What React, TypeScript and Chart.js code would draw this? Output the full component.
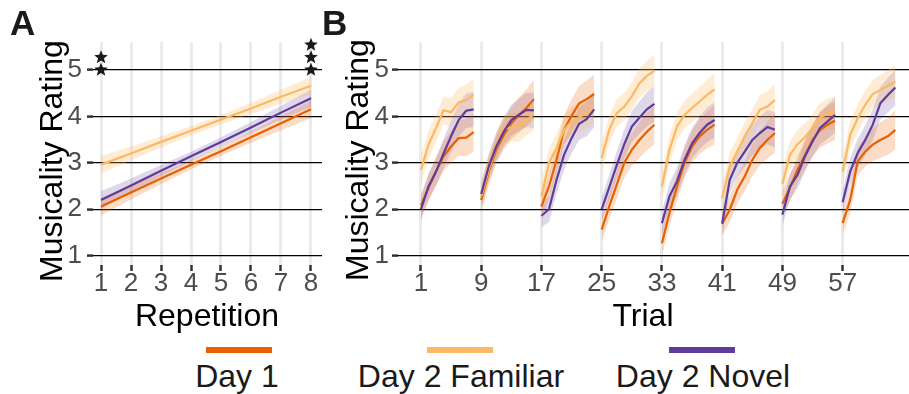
import React, { useEffect, useRef } from 'react';
import { Chart, registerables } from 'chart.js';

Chart.register(...registerables);

const FONT = '"Liberation Sans", Arial, Helvetica, sans-serif';

const COLOR_DAY1 = '#e66101';
const COLOR_FAM = '#fdb863';
const COLOR_NOVEL = '#5e3c99';
const BAND_DAY1 = 'rgba(230,97,1,0.22)';
const BAND_FAM = 'rgba(253,184,99,0.27)';
const BAND_NOVEL = 'rgba(94,60,153,0.2)';

// ---------- Panel A: rating by repetition ----------
const repetitions = [1, 2, 3, 4, 5, 6, 7, 8];
const repDay1 = [2.06, 2.36, 2.66, 2.96, 3.25, 3.55, 3.85, 4.15];
const repFamiliar = [2.96, 3.2, 3.45, 3.69, 3.93, 4.17, 4.42, 4.66];
const repNovel = [2.2, 2.51, 2.83, 3.14, 3.45, 3.76, 4.08, 4.39];
const repCiHalf = [0.19, 0.15, 0.12, 0.1, 0.1, 0.12, 0.15, 0.19];
const sigRepetitions = [1, 8];
const sigLabels = ['**', '***'];
const sigLevel = 5;

const ratingTicks = [1, 2, 3, 4, 5];

// ---------- Panel B: rating by trial ----------
const trialBlockStarts = [1, 9, 17, 25, 33, 41, 49, 57];
const trialsPerBlock = 8;
const trialDay1 = [
  2.08, 2.46, 2.81, 3.14, 3.35, 3.53, 3.54, 3.66,
  2.2, 2.81, 3.28, 3.6, 3.85, 4.03, 4.18, 4.37,
  2.06, 2.49, 3.06, 3.71, 4.01, 4.28, 4.37, 4.48,
  1.56, 2.06, 2.53, 3.0, 3.28, 3.49, 3.67, 3.82,
  1.27, 1.92, 2.49, 3.0, 3.35, 3.57, 3.71, 3.82,
  1.69, 1.99, 2.42, 2.71, 3.06, 3.32, 3.49, 3.64,
  2.12, 2.46, 2.85, 3.17, 3.49, 3.71, 3.82, 3.91,
  1.7, 2.2, 3.03, 3.24, 3.39, 3.49, 3.57, 3.71,
];
const trialFamiliar = [
  2.85, 3.39, 3.75, 4.13, 4.09, 4.3, 4.35, 4.46,
  2.28, 2.85, 3.35, 3.71, 3.77, 3.77, 3.92, 4.05,
  2.28, 3.0, 3.32, 3.71, 3.89, 3.98, 4.07, 4.16,
  3.1, 3.71, 4.07, 4.21, 4.43, 4.71, 4.87, 4.98,
  2.49, 3.28, 3.78, 4.03, 4.18, 4.32, 4.46, 4.58,
  2.24, 2.92, 3.24, 3.57, 3.85, 4.14, 4.21, 4.35,
  2.55, 3.17, 3.4, 3.55, 3.75, 3.98, 4.05, 4.08,
  2.81, 3.6, 3.96, 4.25, 4.48, 4.57, 4.66, 4.75,
];
const trialNovel = [
  2.0, 2.49, 2.81, 3.2, 3.57, 3.92, 4.12, 4.15,
  2.33, 2.92, 3.35, 3.67, 3.92, 4.03, 4.14, 4.13,
  1.86, 2.0, 2.63, 3.17, 3.53, 3.84, 3.94, 4.15,
  2.0, 2.47, 2.95, 3.4, 3.78, 3.97, 4.15, 4.27,
  1.7, 2.28, 2.6, 3.06, 3.42, 3.64, 3.82, 3.92,
  1.69, 2.63, 3.0, 3.24, 3.49, 3.64, 3.77, 3.71,
  1.88, 2.49, 2.74, 3.14, 3.46, 3.75, 3.89, 4.03,
  2.15, 2.81, 3.21, 3.49, 3.82, 4.28, 4.46, 4.62,
];
const ciHalfDay1 = [0.25, 0.28, 0.3, 0.32, 0.35, 0.38, 0.4, 0.42];
const ciHalfFamiliar = [0.3, 0.3, 0.3, 0.3, 0.3, 0.32, 0.33, 0.35];
const ciHalfNovel = [0.25, 0.28, 0.3, 0.32, 0.33, 0.35, 0.37, 0.38];

const legendLabels = ['Day 1', 'Day 2 Familiar', 'Day 2 Novel'];
const legendColors = [COLOR_DAY1, COLOR_FAM, COLOR_NOVEL];

type Pt = { x: number; y: number | null };

function repPoints(vals: number[], half: number[] | null, sign: number): Pt[] {
  return repetitions.map((r, i) => ({ x: r, y: half ? vals[i] + sign * half[i] : vals[i] }));
}

function trialPoints(vals: number[], half: number[] | null, sign: number): Pt[] {
  const pts: Pt[] = [];
  trialBlockStarts.forEach((start, b) => {
    for (let k = 0; k < trialsPerBlock; k++) {
      const v = vals[b * trialsPerBlock + k];
      pts.push({ x: start + k, y: half ? v + sign * half[k] : v });
    }
    pts.push({ x: start + trialsPerBlock - 0.5, y: null });
  });
  return pts;
}

function bandSets(upper: Pt[], lower: Pt[], fill: string) {
  return [
    { data: upper, borderWidth: 0, pointRadius: 0, fill: '+1', backgroundColor: fill, order: 10, spanGaps: false },
    { data: lower, borderWidth: 0, pointRadius: 0, fill: false, backgroundColor: fill, order: 10, spanGaps: false },
  ];
}

function lineSet(data: Pt[], color: string, order: number) {
  return { data, borderColor: color, borderWidth: 2.2, pointRadius: 0, fill: false, order, spanGaps: false };
}

function yScale(width: number, pad: number) {
  return {
    type: 'linear',
    min: 0.8,
    max: 5.6,
    afterBuildTicks: (s: any) => {
      s.ticks = ratingTicks.map((v) => ({ value: v }));
    },
    afterFit: (s: any) => {
      s.width = width;
    },
    grid: { color: '#000000', lineWidth: 1.2, tickColor: '#333333', tickLength: 6, tickWidth: 2.5 },
    border: { display: false },
    ticks: { font: { family: FONT, size: 26, lineHeight: 1 }, color: '#4d4d4d', padding: pad },
  };
}

function xScale(min: number, max: number, tickVals: number[]) {
  return {
    type: 'linear',
    min,
    max,
    afterBuildTicks: (s: any) => {
      s.ticks = tickVals.map((v) => ({ value: v }));
    },
    afterFit: (s: any) => {
      s.height = 35;
    },
    grid: { color: '#ebebeb', lineWidth: 3, tickColor: '#333333', tickLength: 6, tickWidth: 2.5 },
    border: { display: false },
    ticks: {
      font: { family: FONT, size: 26, lineHeight: 1 },
      color: '#4d4d4d',
      padding: 0,
      autoSkip: false,
      maxRotation: 0,
      minRotation: 0,
    },
  };
}

function drawStar(ctx: CanvasRenderingContext2D, cx: number, cy: number, ro: number, ri: number) {
  ctx.beginPath();
  for (let i = 0; i < 10; i++) {
    const r = i % 2 === 0 ? ro : ri;
    const a = -Math.PI / 2 + (i * Math.PI) / 5;
    const x = cx + r * Math.cos(a);
    const y = cy + r * Math.sin(a);
    if (i === 0) ctx.moveTo(x, y);
    else ctx.lineTo(x, y);
  }
  ctx.closePath();
  ctx.fill();
}

const starsPlugin = {
  id: 'sigStars',
  afterDatasetsDraw(chart: any) {
    const { ctx, scales } = chart;
    ctx.save();
    ctx.fillStyle = '#1a1a1a';
    sigRepetitions.forEach((rep, i) => {
      const px = scales.x.getPixelForValue(rep);
      const py = scales.y.getPixelForValue(sigLevel);
      for (let k = 0; k < sigLabels[i].length; k++) {
        drawStar(ctx, px, py - k * 12.5, 7.2, 3.1);
      }
    });
    ctx.restore();
  },
};

function baseOptions(scales: any, padding: any) {
  return {
    responsive: false,
    animation: false,
    devicePixelRatio: 1,
    events: [],
    layout: { padding },
    plugins: { legend: { display: false }, tooltip: { enabled: false }, title: { display: false } },
    scales,
  };
}

export default function App() {
  const refA = useRef<HTMLCanvasElement>(null);
  const refB = useRef<HTMLCanvasElement>(null);

  useEffect(() => {
    const chartA = new Chart(refA.current as HTMLCanvasElement, {
      type: 'line',
      data: {
        datasets: [
          ...bandSets(repPoints(repDay1, repCiHalf, 1), repPoints(repDay1, repCiHalf, -1), BAND_DAY1),
          ...bandSets(repPoints(repFamiliar, repCiHalf, 1), repPoints(repFamiliar, repCiHalf, -1), BAND_FAM),
          ...bandSets(repPoints(repNovel, repCiHalf, 1), repPoints(repNovel, repCiHalf, -1), BAND_NOVEL),
          lineSet(repPoints(repDay1, null, 0), COLOR_DAY1, 3),
          lineSet(repPoints(repFamiliar, null, 0), COLOR_FAM, 2),
          lineSet(repPoints(repNovel, null, 0), COLOR_NOVEL, 1),
        ] as any,
      },
      options: baseOptions(
        { x: xScale(0.733, 8.367, repetitions), y: yScale(93, 5) },
        { left: 0, top: 42, right: 8, bottom: 0 }
      ) as any,
      plugins: [starsPlugin],
    });

    const chartB = new Chart(refB.current as HTMLCanvasElement, {
      type: 'line',
      data: {
        datasets: [
          ...bandSets(trialPoints(trialDay1, ciHalfDay1, 1), trialPoints(trialDay1, ciHalfDay1, -1), BAND_DAY1),
          ...bandSets(trialPoints(trialFamiliar, ciHalfFamiliar, 1), trialPoints(trialFamiliar, ciHalfFamiliar, -1), BAND_FAM),
          ...bandSets(trialPoints(trialNovel, ciHalfNovel, 1), trialPoints(trialNovel, ciHalfNovel, -1), BAND_NOVEL),
          lineSet(trialPoints(trialDay1, null, 0), COLOR_DAY1, 3),
          lineSet(trialPoints(trialFamiliar, null, 0), COLOR_FAM, 2),
          lineSet(trialPoints(trialNovel, null, 0), COLOR_NOVEL, 1),
        ] as any,
      },
      options: baseOptions(
        { x: xScale(-2.05, 65.81, trialBlockStarts), y: yScale(68, 3) },
        { left: 0, top: 42, right: 0, bottom: 0 }
      ) as any,
    });

    return () => {
      chartA.destroy();
      chartB.destroy();
    };
  }, []);

  const textBase: React.CSSProperties = {
    position: 'absolute',
    fontFamily: FONT,
    color: '#000000',
    whiteSpace: 'nowrap',
    textAlign: 'center',
  };

  const legendSegX = [206, 427, 669];
  const legendTextX = [237, 461, 703];

  return (
    <div style={{ position: 'absolute', left: 0, top: 0, width: 909, height: 394, overflow: 'hidden', background: '#fff' }}>
      <canvas ref={refA} width={330} height={300} style={{ position: 'absolute', left: 0, top: 0, width: 330, height: 300 }} />
      <canvas ref={refB} width={579} height={300} style={{ position: 'absolute', left: 330, top: 0, width: 579, height: 300 }} />

      <div style={{ ...textBase, left: 10, top: 5, fontSize: 35, lineHeight: '35px', fontWeight: 'bold', color: '#1a1a1a', textAlign: 'left' }}>A</div>
      <div style={{ ...textBase, left: 322, top: 5, fontSize: 35, lineHeight: '35px', fontWeight: 'bold', color: '#1a1a1a', textAlign: 'left' }}>B</div>

      <div style={{ ...textBase, left: 51 - 150, top: 161 - 18, width: 300, height: 36, fontSize: 32, lineHeight: '36px', transform: 'rotate(-90deg)' }}>Musicality Rating</div>
      <div style={{ ...textBase, left: 357 - 150, top: 160 - 18, width: 300, height: 36, fontSize: 32, lineHeight: '36px', transform: 'rotate(-90deg)' }}>Musicality Rating</div>

      <div style={{ ...textBase, left: 207 - 100, top: 297, width: 200, fontSize: 32, lineHeight: '36px' }}>Repetition</div>
      <div style={{ ...textBase, left: 643 - 100, top: 297, width: 200, fontSize: 32, lineHeight: '36px' }}>Trial</div>

      {legendLabels.map((lab, i) => (
        <React.Fragment key={lab}>
          <div style={{ position: 'absolute', left: legendSegX[i], top: 347, width: 66, height: 6, background: legendColors[i] }} />
          <div style={{ ...textBase, left: legendTextX[i] - 150, top: 358, width: 300, fontSize: 32, lineHeight: '36px', color: '#1a1a1a' }}>{lab}</div>
        </React.Fragment>
      ))}
    </div>
  );
}
